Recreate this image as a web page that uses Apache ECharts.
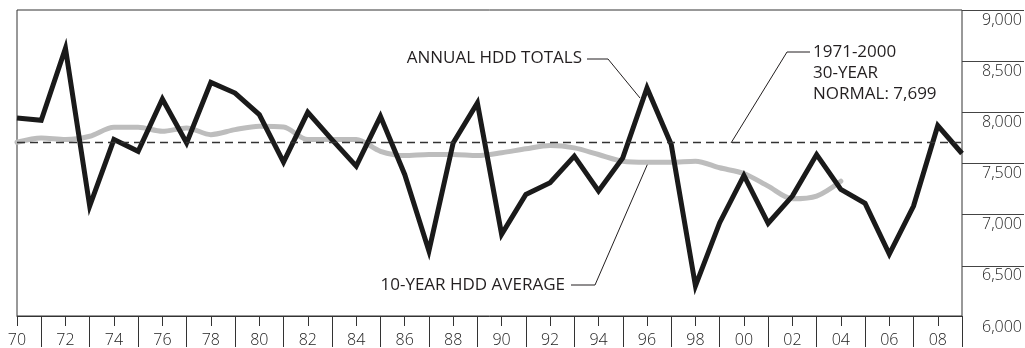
<!DOCTYPE html>
<html>
<head>
<meta charset="utf-8">
<script src="https://cdn.jsdelivr.net/npm/echarts@6/dist/echarts.min.js"></script>
<style>
html,body{margin:0;padding:0;background:#fff;}
#chart{width:1025px;height:348px;}
</style>
</head>
<body>
<div id="chart"></div>
<script>
const years = ['70','71','72','73','74','75','76','77','78','79',
               '80','81','82','83','84','85','86','87','88','89',
               '90','91','92','93','94','95','96','97','98','99',
               '00','01','02','03','04','05','06','07','08','09'];
const annualTotals = [7942,7919,8625,7078,7730,7615,8127,7697,8290,8186,
                      7974,7508,7997,7730,7469,7958,7388,6638,7697,8088,
                      6801,7192,7306,7567,7225,7550,8235,7681,6296,6915,
                      7378,6909,7176,7583,7241,7104,6606,7078,7866,7593];
const tenYearAverage = [7703,7746,7730,7762,7850,7850,7811,7844,7778,7827,
                        7860,7853,7730,7730,7730,7615,7573,7583,7583,7573,
                        7600,7639,7671,7648,7583,7518,7508,7508,7518,7453,
                        7397,7273,7150,7176,7322,null,null,null,null,null];
const normal30 = 7699;
const yMin = 6000, yMax = 9000, yStep = 500;

const FONT = "'Open Sans', sans-serif";
const INK = '#231f20';

const chart = echarts.init(document.getElementById('chart'), null, {renderer:'canvas'});

const option = {
  animation: false,
  backgroundColor: '#fff',
  grid: [
    {left: 17, right: 63, top: 10, bottom: 31, show: true, borderColor: '#333', borderWidth: 1, backgroundColor: 'transparent'},
    {left: 962, right: 0, top: 10, bottom: 31, show: false}
  ],
  xAxis: [
    {
      type: 'category', gridIndex: 0, data: years, boundaryGap: false, position: 'bottom',
      axisLine: {show: true, lineStyle: {color: '#333', width: 1}},
      axisTick: {show: true, length: 31, interval: (i) => i % 2 === 1, lineStyle: {color: '#333', width: 1}},
      axisLabel: {show: false},
      splitLine: {show: false}
    },
    {
      type: 'category', gridIndex: 0, data: years, boundaryGap: false, position: 'bottom',
      axisLine: {show: false},
      axisTick: {show: true, length: 10, interval: (i) => i % 2 === 0, lineStyle: {color: '#333', width: 1}},
      axisLabel: {show: true, interval: (i) => i % 2 === 0, margin: 16, fontFamily: FONT, fontSize: 16, fontWeight: 300, color: '#222',
                  hideOverlap: false},
      splitLine: {show: false}
    },
    {
      type: 'value', gridIndex: 1, show: false, min: 0, max: 1
    }
  ],
  yAxis: [
    {
      type: 'value', gridIndex: 0, min: yMin, max: yMax, interval: yStep,
      axisLine: {show: false}, axisTick: {show: false}, axisLabel: {show: false}, splitLine: {show: false}
    },
    {
      type: 'value', gridIndex: 1, min: yMin, max: yMax, interval: yStep, position: 'right',
      axisLine: {show: false}, axisTick: {show: false},
      axisLabel: {show: true, inside: true, margin: 2, fontFamily: FONT, fontSize: 16, fontWeight: 300, color: '#222',
                  verticalAlign: 'top', lineHeight: 16, padding: [2, 0, 0, 0],
                  formatter: (v) => v.toLocaleString('en-US')},
      splitLine: {show: true, lineStyle: {color: ['rgba(0,0,0,0)', '#444', '#444', '#444', '#444', '#444', '#444'], width: 1}}
    }
  ],
  series: [
    {
      name: '10-Year HDD Average', type: 'line', xAxisIndex: 0, yAxisIndex: 0,
      data: tenYearAverage, symbol: 'none', smooth: 0.3, z: 2,
      lineStyle: {color: '#bdbdbd', width: 5, cap: 'round'}
    },
    {
      name: 'Normal', type: 'line', xAxisIndex: 0, yAxisIndex: 0, data: [], z: 3,
      markLine: {
        silent: true, symbol: ['none', 'none'], label: {show: false},
        lineStyle: {color: '#333', width: 1.3, type: [8, 5]},
        data: [{yAxis: normal30}]
      }
    },
    {
      name: 'Annual HDD Totals', type: 'line', xAxisIndex: 0, yAxisIndex: 0,
      data: annualTotals, symbol: 'none', z: 4,
      lineStyle: {color: '#1a1a1a', width: 5, join: 'miter', cap: 'butt'}
    }
  ],
  graphic: [
    {type: 'text', x: 582, y: 58, style: {text: 'ANNUAL HDD TOTALS', fill: INK, font: "17px " + FONT, align: 'right', verticalAlign: 'middle'}},
    {type: 'polyline', shape: {points: [[587, 59], [608, 59], [640, 98]]}, style: {stroke: INK, lineWidth: 1, fill: null}},
    {type: 'text', x: 565, y: 285, style: {text: '10-YEAR HDD AVERAGE', fill: INK, font: "17px " + FONT, align: 'right', verticalAlign: 'middle'}},
    {type: 'polyline', shape: {points: [[571, 285], [595, 285], [648, 163]]}, style: {stroke: INK, lineWidth: 1, fill: null}},
    {type: 'text', x: 813, y: 42, style: {text: '1971-2000\n30-YEAR\nNORMAL: 7,699', fill: INK, font: "17px " + FONT, lineHeight: 20.7, align: 'left', verticalAlign: 'top'}},
    {type: 'polyline', shape: {points: [[810, 52], [787, 52], [731, 143]]}, style: {stroke: INK, lineWidth: 1, fill: null}}
  ]
};
chart.setOption(option);
</script>
</body>
</html>
